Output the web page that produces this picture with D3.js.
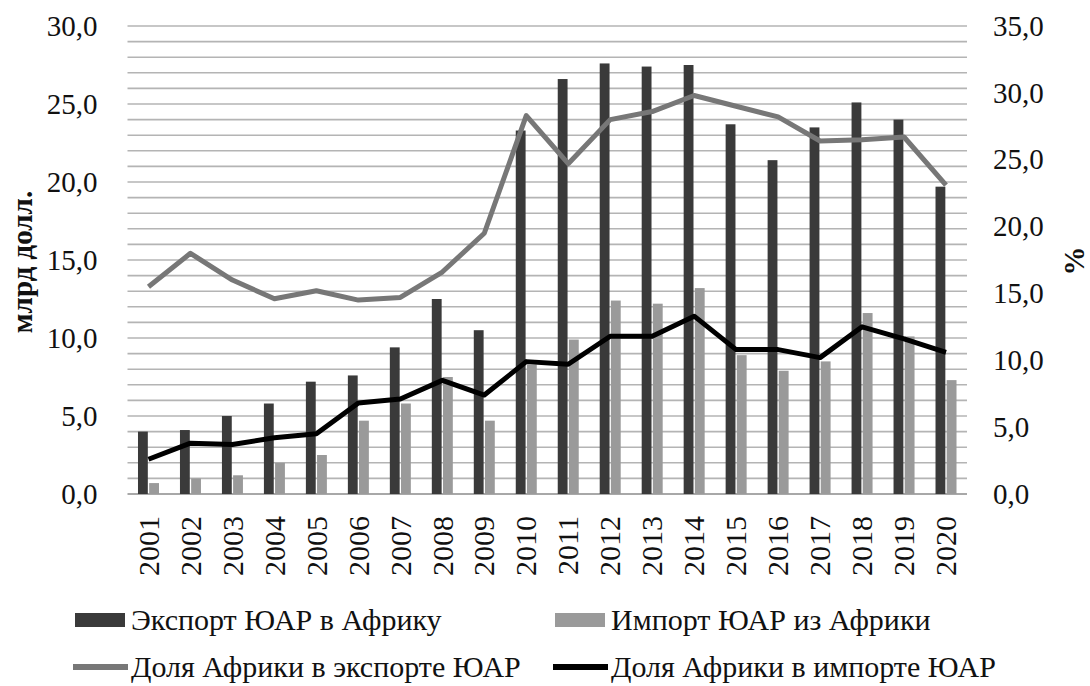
<!DOCTYPE html>
<html>
<head>
<meta charset="utf-8">
<script src="https://cdn.jsdelivr.net/npm/d3@7"></script>
<style>
  html, body { margin: 0; padding: 0; background: #fff; }
  svg { display: block; }
  svg text { font-family: "Liberation Serif", "Times New Roman", Times, "DejaVu Serif", serif !important; fill: #111; }
</style>
</head>
<body>
<div id="chart"></div>
<script>
// Экспорт/импорт ЮАР с Африкой (млрд долл.) и доля Африки (%), 2001–2020
const years = ["2001","2002","2003","2004","2005","2006","2007","2008","2009","2010",
               "2011","2012","2013","2014","2015","2016","2017","2018","2019","2020"];
const exportBn = [4.0, 4.1, 5.0, 5.8, 7.2, 7.6, 9.4, 12.5, 10.5, 23.3,
                  26.6, 27.6, 27.4, 27.5, 23.7, 21.4, 23.5, 25.1, 24.0, 19.7];
const importBn = [0.7, 1.0, 1.2, 2.0, 2.5, 4.7, 5.8, 7.5, 4.7, 8.3,
                  9.9, 12.4, 12.2, 13.2, 8.9, 7.9, 8.5, 11.6, 10.1, 7.3];
const exportShare = [15.5, 18.0, 16.0, 14.6, 15.2, 14.5, 14.7, 16.6, 19.5, 28.3,
                     24.7, 28.0, 28.6, 29.8, 29.0, 28.2, 26.4, 26.5, 26.7, 23.1];
const importShare = [2.6, 3.8, 3.7, 4.2, 4.5, 6.8, 7.1, 8.5, 7.4, 9.9,
                     9.7, 11.8, 11.8, 13.3, 10.8, 10.8, 10.2, 12.5, 11.6, 10.6];
const leftTicks = [0, 5, 10, 15, 20, 25, 30];
const rightTicks = [0, 5, 10, 15, 20, 25, 30, 35];
const gridVals = d3.range(1, 31);

const W = 1090, H = 686;
const plot = { left: 127.5, right: 967, top: 26, bottom: 494 };
const fmt = (v) => v.toFixed(1).replace(".", ",");
const serif = '"Liberation Serif", "Times New Roman", Times, "DejaVu Serif", serif';

const svg = d3.select("#chart").append("svg")
  .attr("width", W).attr("height", H)
  .attr("font-family", serif);

const x = d3.scaleBand(years, [plot.left, plot.right]);
const bw = x.bandwidth();
const xs = d3.scaleBand(["exp", "imp"], [bw / 2 - 10.5, bw / 2 + 10.5]).paddingInner(0.12);
const yL = d3.scaleLinear([0, 30], [plot.bottom, plot.top]);
const yR = d3.scaleLinear([0, 35], [plot.bottom, plot.top]);

// gridlines, one per unit of the left axis
svg.append("g").selectAll("line").data(gridVals).join("line")
  .attr("x1", plot.left).attr("x2", plot.right)
  .attr("y1", (d) => yL(d)).attr("y2", (d) => yL(d))
  .attr("stroke", "#b4b4b4").attr("stroke-width", 1.6);
svg.append("line")
  .attr("x1", plot.left).attr("x2", plot.right)
  .attr("y1", yL(0)).attr("y2", yL(0))
  .attr("stroke", "#a8a8a8").attr("stroke-width", 2.2);

// left axis
const axL = svg.append("g").attr("transform", `translate(${plot.left},0)`)
  .call(d3.axisLeft(yL).tickValues(leftTicks).tickFormat(fmt).tickSize(0).tickPadding(30));
axL.attr("font-family", serif).attr("font-size", 29);
axL.select(".domain").remove();
axL.selectAll("text").attr("fill", "#111");

// right axis
const axR = svg.append("g").attr("transform", `translate(${plot.right},0)`)
  .call(d3.axisRight(yR).tickValues(rightTicks).tickFormat(fmt).tickSize(0).tickPadding(26));
axR.attr("font-family", serif).attr("font-size", 29);
axR.select(".domain").remove();
axR.selectAll("text").attr("fill", "#111");

// bars
const bars = svg.append("g");
bars.selectAll("rect.exp").data(years).join("rect")
  .attr("class", "exp")
  .attr("x", (d) => x(d) + xs("exp")).attr("width", xs.bandwidth())
  .attr("y", (d, i) => yL(exportBn[i])).attr("height", (d, i) => yL(0) - yL(exportBn[i]))
  .attr("fill", "#3a3a3a");
bars.selectAll("rect.imp").data(years).join("rect")
  .attr("class", "imp")
  .attr("x", (d) => x(d) + xs("imp")).attr("width", xs.bandwidth())
  .attr("y", (d, i) => yL(importBn[i])).attr("height", (d, i) => yL(0) - yL(importBn[i]))
  .attr("fill", "#9a9a9a");

// share lines on the right axis
const line = (vals) => d3.line()
  .x((d, i) => x(years[i]) + bw / 2)
  .y((d) => yR(d))(vals);
svg.append("path").attr("d", line(exportShare))
  .attr("fill", "none").attr("stroke", "#777").attr("stroke-width", 5)
  .attr("stroke-linejoin", "round");
svg.append("path").attr("d", line(importShare))
  .attr("fill", "none").attr("stroke", "#000").attr("stroke-width", 5)
  .attr("stroke-linejoin", "round");

// year labels, rotated
svg.append("g").selectAll("text").data(years).join("text")
  .attr("transform", (d) => `translate(${x(d) + bw / 2},516) rotate(-90)`)
  .attr("text-anchor", "end").attr("dy", "0.34em")
  .attr("font-size", 30)
  .text((d) => d);

// axis titles
svg.append("text")
  .attr("transform", "translate(22,262) rotate(-90)")
  .attr("text-anchor", "middle").attr("dy", "0.35em")
  .attr("font-size", 29).attr("font-weight", "bold")
  .text("млрд долл.");
svg.append("text")
  .attr("transform", "translate(1074,261) rotate(-90)")
  .attr("text-anchor", "middle").attr("dy", "0.35em")
  .attr("font-size", 29).attr("font-weight", "bold")
  .text("%");

// legend
const legend = [
  { label: "Экспорт ЮАР в Африку", kind: "rect", color: "#3a3a3a", x: 75, y: 620 },
  { label: "Импорт ЮАР из Африки", kind: "rect", color: "#9a9a9a", x: 555, y: 620 },
  { label: "Доля Африки в экспорте ЮАР", kind: "line", color: "#777", x: 73, y: 667 },
  { label: "Доля Африки в импорте ЮАР", kind: "line", color: "#000", x: 553, y: 667 }
];
const lg = svg.append("g").selectAll("g").data(legend).join("g")
  .attr("transform", (d) => `translate(${d.x},${d.y})`);
lg.filter((d) => d.kind === "rect").append("rect")
  .attr("x", 0).attr("y", -7).attr("width", 50).attr("height", 14)
  .attr("fill", (d) => d.color);
lg.filter((d) => d.kind === "line").append("line")
  .attr("x1", 0).attr("x2", 55).attr("y1", 0).attr("y2", 0)
  .attr("stroke", (d) => d.color).attr("stroke-width", 6);
lg.append("text")
  .attr("x", (d) => (d.kind === "rect" ? 56 : 58))
  .attr("y", 10)
  .attr("font-size", 30)
  .text((d) => d.label);
</script>
</body>
</html>
